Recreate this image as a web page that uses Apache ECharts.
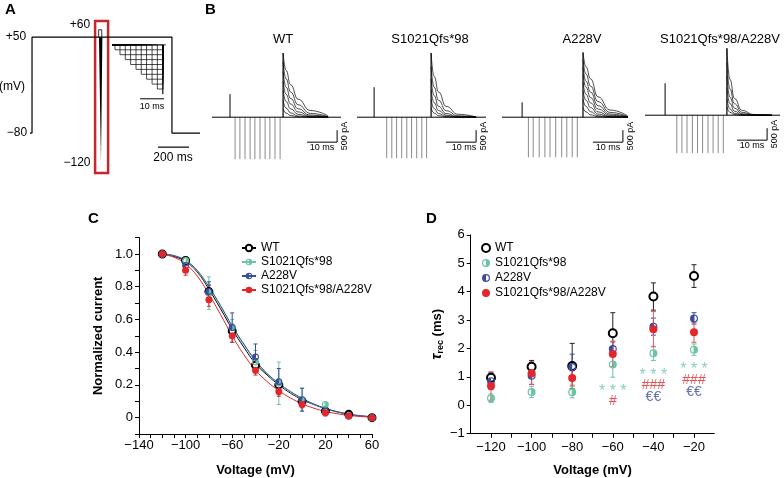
<!DOCTYPE html>
<html>
<head>
<meta charset="utf-8">
<script src="https://cdn.jsdelivr.net/npm/echarts@6/dist/echarts.min.js"></script>
<style>
  html, body { margin: 0; padding: 0; background: #fff; }
  #chart { width: 784px; height: 478px; }
</style>
</head>
<body>
<div id="chart"></div>
<script>
const FONT = '"Liberation Sans", Arial, sans-serif';
const TEAL = '#6cc4a5';
const BLUE = '#3b4c9c';
const RED = '#e3262b';

// ---- panel A: voltage protocol (ms, mV)
const protoA = [[0, -80], [13, -80], [13, 50], [916, 50], [916, -80], [1097, -80]];
const prepulseA = [[443, 50], [443, 60], [463, 60], [463, 50]];
const wedgeA = [[445, 50], [467, 50], [458, -120]];
const redBoxA = [[420, 72], [504, -134]];
const scaleBarA = [[826, -99], [1026, -99]];
// inset staircase (ms, step index)
const insetTimes = [1.25, 3.33, 5.54, 7.75, 10.0, 12.2, 14.4, 16.7, 18.9, 21.1];
const insetLevels = [-1, -2, -3, -4, -5, -6, -7, -8, -9, -10];
const insetEnd = 21.25;
const insetTop = [[0, 0], [22.5, 0]];
const insetScale = [[11.7, -11], [21.7, -11]];

// ---- panel B: current traces (ms, pA)
const bNames = ['WT', 'S1021Qfs*98', 'A228V', 'S1021Qfs*98/A228V'];
const bCapTimes = [6.0, 5.7, 6.7, 6.7];
const bCapPeaks = [960, 1250, 620, 1330];
const bStepTimes = [
  [7.7, 9.3, 11.0, 12.7, 14.3, 16.0, 17.7, 19.3, 21.0, 22.7],
  [9.9, 11.6, 13.2, 14.9, 16.6, 18.2, 19.9, 21.6, 23.2],
  [8.8, 10.4, 12.4, 14.3, 16.0, 17.9, 19.9, 21.6, 23.4, 25.1],
  [10.6, 12.3, 14.0, 15.8, 17.5, 19.2, 21.0, 22.7, 24.4, 26.1]
];
const bStepPeaks = [-1750, -1710, -1670, -1580];
const bTestTimes = [23.7, 24.7, 27.0, 27.3];
const bBaseEnds = [43, 43, 42, 45];
const bScaleX = [41.7, 39.7, 40.3, 40.7];
const tailOffsets = [0, 1, 2.5, 5, 9, 15];
const tailsWT = [
  [2670, 1950, 1350, 750, 280, 50],
  [2300, 1600, 1050, 520, 160, 20],
  [1900, 1250, 780, 350, 90, 10],
  [1500, 950, 550, 220, 50, 5],
  [1100, 650, 350, 120, 20, 0],
  [700, 380, 180, 50, 5, 0],
  [350, 170, 70, 15, 0, 0]
];
const tailsS1021 = [
  [2670, 1700, 1050, 450, 120, 10],
  [2100, 1250, 700, 270, 60, 0],
  [1600, 900, 450, 150, 25, 0],
  [1150, 600, 280, 80, 10, 0],
  [750, 360, 150, 35, 0, 0],
  [400, 170, 60, 10, 0, 0]
];
const tailsA228V = [
  [2700, 2100, 1600, 850, 300, 40],
  [2400, 1800, 1300, 650, 200, 20],
  [2100, 1500, 1050, 480, 130, 10],
  [1800, 1250, 820, 340, 80, 5],
  [1450, 950, 600, 220, 40, 0],
  [1100, 700, 400, 130, 20, 0],
  [750, 450, 230, 60, 5, 0],
  [400, 220, 100, 20, 0, 0]
];
const tailsDouble = [
  [2790, 1500, 700, 200, 30, 0],
  [2200, 1100, 480, 120, 10, 0],
  [1650, 750, 300, 60, 5, 0],
  [1150, 480, 170, 25, 0, 0],
  [700, 260, 80, 10, 0, 0],
  [350, 120, 30, 0, 0, 0]
];
const bTails = [tailsWT, tailsS1021, tailsA228V, tailsDouble];

// ---- panel C: normalized current vs voltage
const cVolts = [-120, -100, -80, -60, -40, -20, 0, 20, 40, 60];
const cWT = [1.0, 0.96, 0.77, 0.53, 0.32, 0.20, 0.10, 0.04, 0.02, 0.0];
const cS1021 = [1.0, 0.96, 0.76, 0.55, 0.34, 0.21, 0.11, 0.08, 0.01, 0.0];
const cA228V = [1.0, 0.93, 0.77, 0.55, 0.37, 0.22, 0.11, 0.04, 0.01, 0.0];
const cDouble = [1.0, 0.90, 0.72, 0.50, 0.29, 0.16, 0.08, 0.03, 0.01, 0.0];
const cErrWT = [0, 0.02, 0.04, 0.04, 0.04, 0.03, 0.02, 0.01, 0.01, 0];
const cErrS1021 = [0, 0.02, 0.10, 0.05, 0.07, 0.13, 0.07, 0.01, 0.01, 0];
const cErrA228V = [0, 0.02, 0.06, 0.09, 0.08, 0.08, 0.07, 0.02, 0.01, 0];
const cErrDouble = [0, 0.03, 0.04, 0.04, 0.03, 0.03, 0.02, 0.02, 0.01, 0];
const cFitVolts = [-120, -110, -100, -90, -80, -70, -60, -50, -40, -30, -20, -10, 0, 10, 20, 30, 40, 50, 60];
const cFitWT = [1.0, 0.985, 0.955, 0.89, 0.785, 0.665, 0.54, 0.43, 0.33, 0.26, 0.2, 0.15, 0.11, 0.08, 0.055, 0.035, 0.02, 0.01, 0.005];
const cFitS1021 = [1.0, 0.99, 0.96, 0.895, 0.795, 0.68, 0.555, 0.445, 0.345, 0.265, 0.205, 0.155, 0.115, 0.082, 0.056, 0.036, 0.021, 0.011, 0.005];
const cFitA228V = [1.0, 0.99, 0.96, 0.9, 0.8, 0.685, 0.56, 0.45, 0.35, 0.27, 0.21, 0.16, 0.118, 0.084, 0.057, 0.037, 0.022, 0.012, 0.006];
const cFitDouble = [1.0, 0.98, 0.94, 0.865, 0.755, 0.63, 0.5, 0.385, 0.29, 0.22, 0.165, 0.12, 0.085, 0.058, 0.038, 0.024, 0.014, 0.007, 0.003];
const cXLabels = [-140, -100, -60, -20, 20, 60];
const cYLabels = [0, 0.2, 0.4, 0.6, 0.8, 1.0];

// ---- panel D: recovery time constant vs voltage
const dVolts = [-120, -100, -80, -60, -40, -20];
const dWT = [0.97, 1.36, 1.38, 2.54, 3.83, 4.55];
const dS1021 = [0.25, 0.47, 0.46, 1.44, 1.83, 1.96];
const dA228V = [0.85, 1.04, 1.35, 1.98, 2.77, 3.06];
const dDouble = [0.68, 1.13, 0.96, 1.81, 2.68, 2.57];
const dErrWT = [0.15, 0.22, 0.8, 0.72, 0.48, 0.4];
const dErrS1021 = [0.15, 0.2, 0.2, 0.45, 0.25, 0.2];
const dErrA228V = [0.3, 0.3, 0.45, 0.25, 0.3, 0.2];
const dErrDouble = [0.5, 0.4, 0.25, 0.45, 0.62, 0.35];
const dSigS1021 = [[-60, 0.5, '* * *'], [-40, 1.03, '* * *'], [-20, 1.24, '* * *']];
const dSigDouble = [[-60, 0.15, '#'], [-40, 0.72, '###'], [-20, 0.9, '###']];
const dSigA228V = [[-40, 0.27, '€€'], [-20, 0.48, '€€']];
const dXLabels = [-120, -100, -80, -60, -40, -20];
const dXTicks = [-120, -110, -100, -90, -80, -70, -60, -50, -40, -30, -20];

const legendNames = ['WT', 'S1021Qfs*98', 'A228V', 'S1021Qfs*98/A228V'];

// half-filled circle symbols
const HALF_LEFT = 'path://M0,10A10,10,0,1,1,20,10A10,10,0,1,1,0,10ZM3,10A7,7,0,1,0,17,10A7,7,0,1,0,3,10ZM10,3A7,7,0,0,0,10,17Z';
const HALF_RIGHT = 'path://M0,10A10,10,0,1,1,20,10A10,10,0,1,1,0,10ZM3,10A7,7,0,1,0,17,10A7,7,0,1,0,3,10ZM10,3A7,7,0,0,1,10,17Z';

const pairs = (xs, ys) => xs.map((x, i) => [x, ys[i]]);
const withErr = (xs, ys, es) => xs.map((x, i) => [x, ys[i] - es[i], ys[i] + es[i]]);
const minus = v => (v < 0 ? '\u2212' + Math.abs(v) : String(v));

function errorBars(name, axis, data, color, w) {
  return {
    type: 'custom', name: name, xAxisIndex: axis, yAxisIndex: axis, z: 1, silent: true,
    data: data, encode: { x: 0, y: [1, 2] },
    renderItem: (params, api) => {
      const x = api.value(0);
      const top = api.coord([x, api.value(2)]);
      const bot = api.coord([x, api.value(1)]);
      const st = { stroke: color, lineWidth: 1 };
      return {
        type: 'group', children: [
          { type: 'line', shape: { x1: top[0], y1: top[1], x2: bot[0], y2: bot[1] }, style: st },
          { type: 'line', shape: { x1: top[0] - w, y1: top[1], x2: top[0] + w, y2: top[1] }, style: st },
          { type: 'line', shape: { x1: bot[0] - w, y1: bot[1], x2: bot[0] + w, y2: bot[1] }, style: st }
        ]
      };
    }
  };
}

function spikes(axis, data, color, width) {
  return {
    type: 'custom', xAxisIndex: axis, yAxisIndex: axis, silent: true, clip: false,
    data: data, encode: { x: 0, y: 1 },
    renderItem: (params, api) => {
      const a = api.coord([api.value(0), 0]);
      const b = api.coord([api.value(0), api.value(1)]);
      return { type: 'line', shape: { x1: a[0], y1: a[1], x2: b[0], y2: b[1] }, style: { stroke: color, lineWidth: width } };
    }
  };
}

function plainLine(axis, data, color, width) {
  return {
    type: 'line', xAxisIndex: axis, yAxisIndex: axis, data: data, symbol: 'none', silent: true,
    clip: false, lineStyle: { color: color, width: width }
  };
}

function hiddenAxes(minX, maxX, minY, maxY) {
  return {
    x: { type: 'value', min: minX, max: maxX, show: false },
    y: { type: 'value', min: minY, max: maxY, show: false }
  };
}

function txt(text, x, y, size, opts) {
  const o = opts || {};
  return {
    type: 'text', x: x, y: y, rotation: o.rotation || 0, silent: true,
    style: {
      text: text, fill: '#000',
      font: (o.bold ? 'bold ' : '') + size + 'px ' + FONT,
      textAlign: o.align || 'center', align: o.align || 'center',
      textVerticalAlign: 'middle', verticalAlign: 'middle'
    }
  };
}

const grids = [];
const xAxes = [];
const yAxes = [];
const series = [];

// grid 0: protocol
grids.push({ left: 30, top: 15, width: 170, height: 162.4 });
let ax = hiddenAxes(0, 1097, -140, 80);
xAxes.push(Object.assign({ gridIndex: 0 }, ax.x));
yAxes.push(Object.assign({ gridIndex: 0 }, ax.y));
series.push(Object.assign(plainLine(0, protoA, '#000', 1.2), {
  markArea: {
    silent: true,
    itemStyle: { color: 'rgba(0,0,0,0)', borderColor: '#c7262d', borderWidth: 2.5 },
    data: [[{ coord: redBoxA[0] }, { coord: redBoxA[1] }]]
  }
}));
series.push(plainLine(0, prepulseA, '#000', 0.8));
series.push({
  type: 'custom', xAxisIndex: 0, yAxisIndex: 0, silent: true, data: [wedgeA[0]],
  renderItem: (params, api) => ({
    type: 'polygon', shape: { points: wedgeA.map(p => api.coord(p)) }, style: { fill: '#000' }
  })
});
series.push(plainLine(0, scaleBarA, '#000', 1.2));

// grid 1: inset staircase
grids.push({ left: 112, top: 40, width: 55.2, height: 61.25 });
ax = hiddenAxes(0, 23, -11.5, 1);
xAxes.push(Object.assign({ gridIndex: 1 }, ax.x));
yAxes.push(Object.assign({ gridIndex: 1 }, ax.y));
series.push({
  type: 'custom', xAxisIndex: 1, yAxisIndex: 1, silent: true,
  data: pairs(insetTimes, insetLevels), encode: { x: 0, y: 1 },
  renderItem: (params, api) => {
    const t = api.value(0), l = api.value(1);
    const pts = [[0, 0], [t, 0], [t, l], [insetEnd, l], [insetEnd, 0]].map(p => api.coord(p));
    return { type: 'polyline', shape: { points: pts }, style: { stroke: '#000', lineWidth: 0.7, fill: null } };
  }
});
series.push(plainLine(1, insetTop, '#000', 0.8));
series.push(plainLine(1, insetScale, '#000', 1));

// grids 2-5: current traces
const bLefts = [212, 357, 502, 645];
const bTops = [50, 50, 50, 48];
bNames.forEach((name, k) => {
  const gi = 2 + k;
  grids.push({ left: bLefts[k], top: bTops[k], width: 135, height: 110.4 });
  const a = hiddenAxes(0, 45, -1800, 2800);
  xAxes.push(Object.assign({ gridIndex: gi }, a.x));
  yAxes.push(Object.assign({ gridIndex: gi }, a.y));
  series.push(spikes(gi, bStepTimes[k].map(t => [t, bStepPeaks[k]]), '#8a8a8a', 1));
  series.push(plainLine(gi, [[0, 0], [bBaseEnds[k], 0]], '#000', 1));
  series.push(spikes(gi, [[bCapTimes[k], bCapPeaks[k]]], '#000', 1));
  series.push(spikes(gi, [[bTestTimes[k], bTails[k][0][0]]], '#000', 1.2));
  bTails[k].forEach(vals => {
    series.push(Object.assign(plainLine(gi, tailOffsets.map((o, j) => [bTestTimes[k] + o, vals[j]]), '#000', 0.7), {
      smooth: 0.5, smoothMonotone: 'x'
    }));
  });
  const sx = bScaleX[k];
  series.push(plainLine(gi, [[sx - 10, -1040], [sx, -1040], [sx, -540]], '#000', 1));
});

// grid 6: panel C
const axisText = { color: '#000', fontFamily: FONT, fontSize: 13 };
const nameText = { color: '#000', fontFamily: FONT, fontSize: 13, fontWeight: 'bold' };
grids.push({ left: 139, top: 237.6, width: 233, height: 196.8 });
xAxes.push({
  gridIndex: 6, type: 'value', min: -140, max: 60, interval: 10,
  name: 'Voltage (mV)', nameLocation: 'middle', nameGap: 30, nameTextStyle: nameText,
  axisLine: { onZero: false, lineStyle: { color: '#000', width: 1 } },
  axisTick: { length: 4, lineStyle: { color: '#000' } },
  axisLabel: Object.assign({ customValues: cXLabels, formatter: minus, margin: 5 }, axisText),
  splitLine: { show: false }
});
yAxes.push({
  gridIndex: 6, type: 'value', min: -0.1, max: 1.1, interval: 0.1,
  name: 'Normalized current', nameLocation: 'middle', nameGap: 34, nameTextStyle: nameText,
  axisLine: { show: true, onZero: false, lineStyle: { color: '#000', width: 1 } },
  axisTick: { show: true, length: 4, lineStyle: { color: '#000' } },
  axisLabel: Object.assign({ customValues: cYLabels, formatter: v => (v === 0 ? '0' : v.toFixed(1)), margin: 6 }, axisText),
  splitLine: { show: false }
});

const cSets = [
  { name: legendNames[0], fit: cFitWT, pts: cWT, err: cErrWT, color: '#000', symbol: 'emptyCircle' },
  { name: legendNames[1], fit: cFitS1021, pts: cS1021, err: cErrS1021, color: TEAL, symbol: HALF_RIGHT },
  { name: legendNames[2], fit: cFitA228V, pts: cA228V, err: cErrA228V, color: BLUE, symbol: HALF_LEFT },
  { name: legendNames[3], fit: cFitDouble, pts: cDouble, err: cErrDouble, color: RED, symbol: 'circle' }
];
cSets.forEach(s => {
  series.push({
    type: 'line', name: s.name, xAxisIndex: 6, yAxisIndex: 6, data: pairs(cFitVolts, s.fit),
    smooth: 0.4, showSymbol: false, symbol: s.symbol, symbolSize: 7, z: 1,
    lineStyle: { color: s.color, width: 1 }, itemStyle: { color: s.color, borderWidth: s.symbol === 'emptyCircle' ? 1.5 : 0 }
  });
});
cSets.forEach(s => {
  series.push(errorBars(s.name, 6, withErr(cVolts, s.pts, s.err), s.color, 2));
});
cSets.forEach(s => {
  series.push({
    type: 'scatter', name: s.name, xAxisIndex: 6, yAxisIndex: 6, data: pairs(cVolts, s.pts),
    symbol: s.symbol, symbolSize: 7, z: 3,
    itemStyle: { color: s.color, borderColor: s.color, borderWidth: s.symbol === 'emptyCircle' ? 1.5 : 0, opacity: 1 }
  });
});

// grid 7: panel D
grids.push({ left: 470.7, top: 234.9, width: 243.6, height: 198.8 });
xAxes.push({
  gridIndex: 7, type: 'value', min: -130, max: -10,
  name: 'Voltage (mV)', nameLocation: 'middle', nameGap: 30, nameTextStyle: nameText,
  axisLine: { onZero: false, lineStyle: { color: '#000', width: 1 } },
  axisTick: { length: 4, customValues: dXTicks, lineStyle: { color: '#000' } },
  axisLabel: Object.assign({ customValues: dXLabels, formatter: minus, margin: 7 }, axisText),
  splitLine: { show: false }
});
yAxes.push({
  gridIndex: 7, type: 'value', min: -1, max: 6, interval: 1,
  name: '{t|\u03c4}{s|rec}{m| (ms)}', nameLocation: 'middle', nameGap: 26,
  nameTextStyle: {
    color: '#000', fontFamily: FONT, fontSize: 13, fontWeight: 'bold',
    rich: {
      t: { fontFamily: FONT, fontSize: 15, fontWeight: 'bold', fontStyle: 'italic', color: '#000' },
      s: { fontFamily: FONT, fontSize: 9, fontWeight: 'bold', color: '#000', verticalAlign: 'bottom', padding: [6, 0, 0, 0] },
      m: { fontFamily: FONT, fontSize: 13, fontWeight: 'bold', color: '#000' }
    }
  },
  axisLine: { show: true, onZero: false, lineStyle: { color: '#000', width: 1 } },
  axisTick: { show: true, length: 4, lineStyle: { color: '#000' } },
  axisLabel: Object.assign({ formatter: minus, margin: 6 }, axisText),
  splitLine: { show: false }
});

const dSets = [
  { name: 'D:' + legendNames[0], pts: dWT, err: dErrWT, color: '#000', bar: '#222', symbol: 'emptyCircle' },
  { name: 'D:' + legendNames[1], pts: dS1021, err: dErrS1021, color: TEAL, bar: TEAL, symbol: HALF_RIGHT },
  { name: 'D:' + legendNames[2], pts: dA228V, err: dErrA228V, color: BLUE, bar: BLUE, symbol: HALF_LEFT },
  { name: 'D:' + legendNames[3], pts: dDouble, err: dErrDouble, color: RED, bar: '#e2575a', symbol: 'circle' }
];
dSets.forEach(s => {
  series.push({
    type: 'scatter', name: s.name, xAxisIndex: 7, yAxisIndex: 7, data: pairs(dVolts, s.pts),
    symbol: s.symbol, symbolSize: 8, z: 3,
    itemStyle: { color: s.color, borderColor: s.color, borderWidth: s.symbol === 'emptyCircle' ? 1.6 : 0, opacity: 1 }
  });
});
dSets.forEach(s => {
  series.push(errorBars(s.name, 7, withErr(dVolts, s.pts, s.err), s.bar, 2.5));
});
[[dSigS1021, TEAL, 16], [dSigDouble, RED, 14], [dSigA228V, BLUE, 14]].forEach(([data, color, size]) => {
  series.push({
    type: 'scatter', xAxisIndex: 7, yAxisIndex: 7, data: data, symbolSize: 1, silent: true, z: 4,
    itemStyle: { color: 'rgba(0,0,0,0)' },
    label: {
      show: true, position: 'inside', formatter: p => p.value[2],
      color: color, fontFamily: FONT, fontSize: size
    }
  });
});

const graphics = [
  txt('A', 5, 10, 15, { bold: true, align: 'left' }),
  txt('B', 205, 10, 15, { bold: true, align: 'left' }),
  txt('C', 88, 219, 15, { bold: true, align: 'left' }),
  txt('D', 426, 219, 15, { bold: true, align: 'left' }),
  txt('+50', 16, 37, 12),
  txt('(mV)', 12, 87, 12),
  txt('\u221280', 17, 133, 12),
  txt('+60', 80, 25, 12),
  txt('\u2212120', 77, 163, 12),
  txt('200 ms', 173, 158, 12),
  txt('10 ms', 152, 107, 9),
  txt('WT', 283, 39, 13),
  txt('S1021Qfs*98', 430, 39, 13),
  txt('A228V', 582, 39, 13),
  txt('S1021Qfs*98/A228V', 720, 39, 13)
];
const bTextX = [[322, 345], [464, 484], [608, 631], [752, 775]];
bTextX.forEach(([tx, px], k) => {
  graphics.push(txt('10 ms', tx, 148 - (k === 3 ? 2 : 0), 9));
  graphics.push(txt('500 pA', px, 136 - (k === 3 ? 2 : 0), 9, { rotation: Math.PI / 2 }));
});

const chart = echarts.init(document.getElementById('chart'), null, { renderer: 'canvas' });
chart.setOption({
  animation: false,
  backgroundColor: '#fff',
  grid: grids,
  xAxis: xAxes,
  yAxis: yAxes,
  legend: [
    {
      data: legendNames, left: 236, top: 237, orient: 'vertical',
      itemWidth: 14, itemHeight: 8, itemGap: 2, selectedMode: false,
      textStyle: { color: '#000', fontFamily: FONT, fontSize: 12 }
    },
    {
      data: dSets.map(s => s.name), formatter: n => n.slice(2), left: 476, top: 237, orient: 'vertical',
      itemWidth: 8, itemHeight: 8, itemGap: 3, selectedMode: false,
      textStyle: { color: '#000', fontFamily: FONT, fontSize: 12 }
    }
  ],
  graphic: { elements: graphics },
  series: series
});
</script>
</body>
</html>
